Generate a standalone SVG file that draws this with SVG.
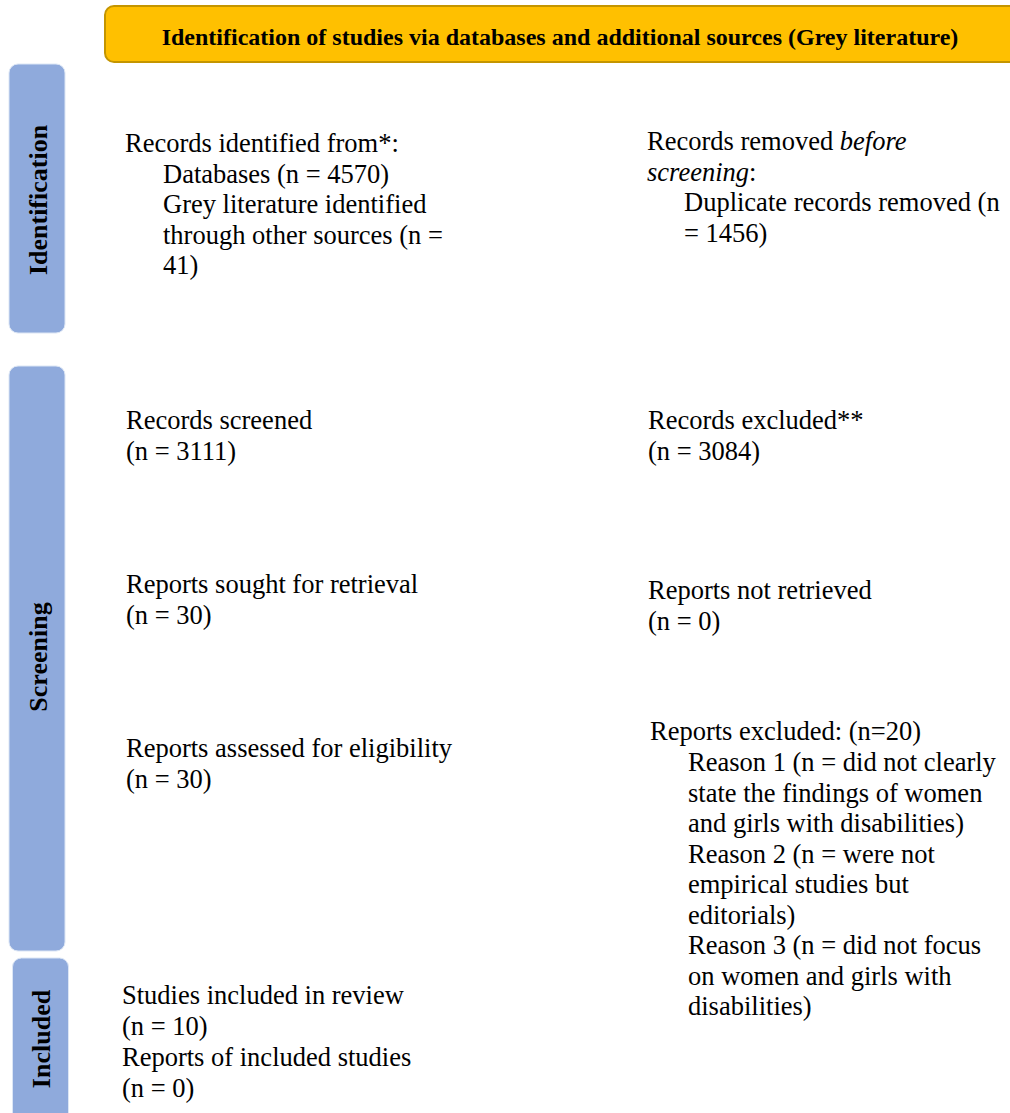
<svg xmlns="http://www.w3.org/2000/svg" width="1010" height="1113" viewBox="0 0 1010 1113">
<style>
.t{font-family:"Liberation Serif","Times New Roman",serif;font-size:26.5px;fill:#000}
.hd{font-family:"Liberation Serif","Times New Roman",serif;font-size:24px;font-weight:bold;fill:#000}
.side{fill:#8FAADC;stroke:#DCE6F5;stroke-width:1}
.sl{font-family:"Liberation Serif","Times New Roman",serif;font-size:26px;font-weight:bold;fill:#000}
</style>
<rect width="1010" height="1113" fill="#fff"/>
<g id="header">
<rect x="105" y="6" width="960" height="56" rx="9" fill="#FFC000" stroke="#C49500" stroke-width="2"/>
<text class="hd" x="560" y="45" text-anchor="middle">Identification of studies via databases and additional sources (Grey literature)</text>
</g>
<g id="phase-identification">
<rect class="side" x="9" y="64" width="56" height="269" rx="9"/>
<text class="sl" transform="translate(47,200) rotate(-90)" text-anchor="middle">Identification</text>
</g>
<g id="phase-screening">
<rect class="side" x="9" y="366" width="56" height="585" rx="9"/>
<text class="sl" transform="translate(47,657) rotate(-90)" text-anchor="middle">Screening</text>
</g>
<g id="phase-included">
<rect class="side" x="12.5" y="958" width="56" height="200" rx="9"/>
<text class="sl" transform="translate(50,1039) rotate(-90)" text-anchor="middle">Included</text>
</g>
<g id="connectors"></g>
<g id="records-identified">
<text class="t" x="125" y="152">Records identified from*:</text>
<text class="t" x="163" y="182.5">Databases (n = 4570)</text>
<text class="t" x="163" y="213">Grey literature identified</text>
<text class="t" x="163" y="243.5">through other sources (n =</text>
<text class="t" x="163" y="274">41)</text>
</g>
<g id="records-removed">
<text class="t" x="647" y="150">Records removed <tspan font-style="italic">before</tspan></text>
<text class="t" x="647" y="180.5"><tspan font-style="italic">screening</tspan>:</text>
<text class="t" x="684" y="211">Duplicate records removed (n</text>
<text class="t" x="684" y="241.5">= 1456)</text>
</g>
<g id="records-screened">
<text class="t" x="126" y="429">Records screened</text>
<text class="t" x="126" y="460">(n = 3111)</text>
</g>
<g id="records-excluded">
<text class="t" x="648" y="429">Records excluded**</text>
<text class="t" x="648" y="460">(n = 3084)</text>
</g>
<g id="reports-sought">
<text class="t" x="126" y="593">Reports sought for retrieval</text>
<text class="t" x="126" y="624">(n = 30)</text>
</g>
<g id="reports-not-retrieved">
<text class="t" x="648" y="599">Reports not retrieved</text>
<text class="t" x="648" y="630">(n = 0)</text>
</g>
<g id="reports-assessed">
<text class="t" x="126" y="757">Reports assessed for eligibility</text>
<text class="t" x="126" y="788">(n = 30)</text>
</g>
<g id="reports-excluded">
<text class="t" x="650" y="740">Reports excluded: (n=20)</text>
<text class="t" x="688" y="771">Reason 1 (n = did not clearly</text>
<text class="t" x="688" y="801.5">state the findings of women</text>
<text class="t" x="688" y="832">and girls with disabilities)</text>
<text class="t" x="688" y="862.5">Reason 2 (n = were not</text>
<text class="t" x="688" y="893">empirical studies but</text>
<text class="t" x="688" y="923.5">editorials)</text>
<text class="t" x="688" y="954">Reason 3 (n = did not focus</text>
<text class="t" x="688" y="984.5">on women and girls with</text>
<text class="t" x="688" y="1015">disabilities)</text>
</g>
<g id="studies-included">
<text class="t" x="122" y="1004">Studies included in review</text>
<text class="t" x="122" y="1035">(n = 10)</text>
<text class="t" x="122" y="1066">Reports of included studies</text>
<text class="t" x="122" y="1097">(n = 0)</text>
</g>
</svg>
